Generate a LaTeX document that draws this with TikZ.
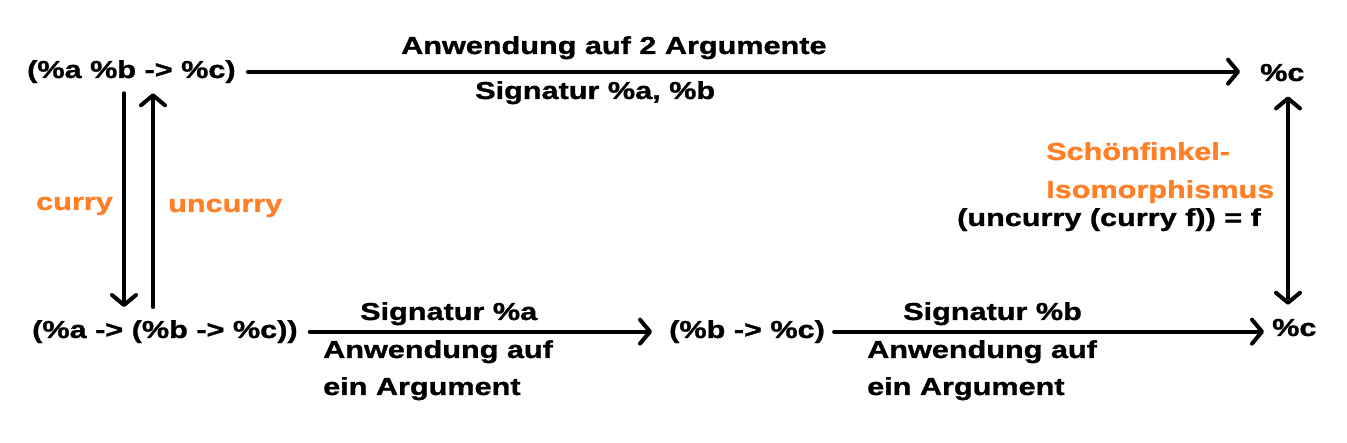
\documentclass[tikz,border=0pt]{standalone}
\usepackage{fontspec}
\setmainfont{Liberation Sans}[FakeStretch=1.25, BoldFeatures={FakeBold=1.2}]
\usetikzlibrary{arrows.meta,calc}
\definecolor{paintorange}{RGB}{255,127,39}
\tikzset{
  txt/.style={inner sep=0pt, font=\fontsize{24.5}{30}\selectfont\bfseries, text=black},
  lbl/.style={txt, anchor=base west},
  olbl/.style={lbl, text=paintorange},
  barb/.tip={Straight Barb[length=10pt,width=24pt,round]},
  arr/.style={line width=4pt, line cap=round, -barb},
  darr/.style={line width=4pt, line cap=round, barb-barb}
}
\begin{document}
\begin{tikzpicture}[x=1pt,y=-1pt]
\fill[white] (0,0) rectangle (1347,443);
\useasboundingbox (0,0) rectangle (1347,443);

% main nodes
\node[txt, anchor=base west] (A) at (27,78) {(\%a \%b -> \%c)};
\node[txt, anchor=base west] (B) at (1260,81) {\%c};
\node[txt, anchor=base west] (C) at (32,338) {(\%a -> (\%b -> \%c))};
\node[txt, anchor=base west] (D) at (669,338) {(\%b -> \%c)};
\node[txt, anchor=base west] (E) at (1272,336) {\%c};

\coordinate (cx) at (124,0);
\coordinate (ux) at (153,0);
\coordinate (vx) at (1288,0);

% connectors
\draw[arr, shorten <=12pt, shorten >=20pt] (A.east) -- (A.east -| B.west);
\draw[arr, shorten <=10pt, shorten >=13pt] (A.south -| cx) -- (C.north -| cx);
\draw[arr, shorten <=13pt, shorten >=10pt] (C.north -| ux) -- (A.south -| ux);
\draw[arr, shorten <=12pt, shorten >=17pt] (C.east) -- (C.east -| D.west);
\draw[arr, shorten <=9pt, shorten >=8pt] (D.east) -- (D.east -| E.west);
\draw[darr, shorten <=15pt, shorten >=14pt] (B.south -| vx) -- (E.north -| vx);

% labels
\node[lbl] (l1) at (401,54) {Anwendung auf 2 Argumente};
\node[lbl] (l2) at (475,99) {Signatur \%a, \%b};
\node[olbl] (l3) at (36,210) {curry};
\node[olbl] (l4) at (168,212) {uncurry};
\node[olbl] (l5) at (1046,160) {Schönfinkel-};
\node[olbl] (l6) at (1046,198) {Isomorphismus};
\node[lbl] (l7) at (957,226) {(uncurry (curry f)) = f};
\node[lbl] (l8) at (360,320) {Signatur \%a};
\node[lbl] (l9) at (323,358) {Anwendung auf};
\node[lbl] (l10) at (323,395) {ein Argument};
\node[lbl] (l11) at (903,320) {Signatur \%b};
\node[lbl] (l12) at (867,358) {Anwendung auf};
\node[lbl] (l13) at (867,395) {ein Argument};
\end{tikzpicture}
\end{document}
